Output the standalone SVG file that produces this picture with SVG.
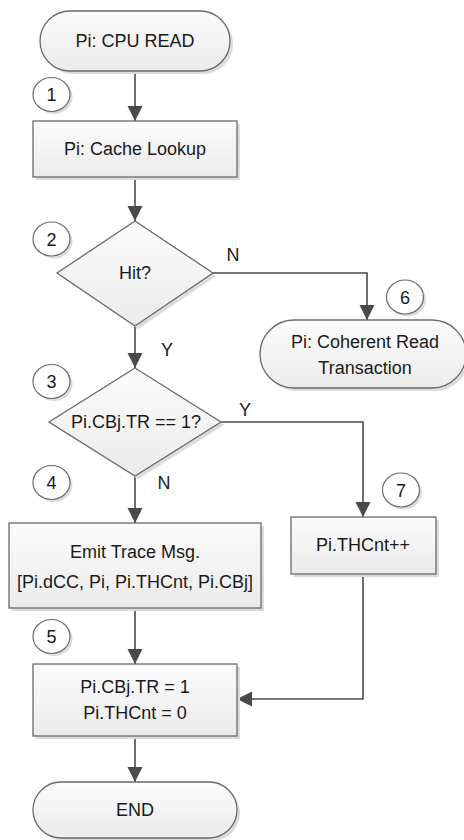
<svg xmlns="http://www.w3.org/2000/svg" width="464" height="840" viewBox="0 0 464 840">
  <style>
    .shape { fill: url(#fillGrad); stroke: #6a6a6a; stroke-width: 1.3; }
    .shadow { fill: #dcdcdc; }
    .badge { fill: #ffffff; stroke: #6a6a6a; stroke-width: 1.2; }
    .label { font-family: "Liberation Sans", Arial, sans-serif; font-size: 18px; fill: #1a1a1a; text-anchor: middle; }
    .edge { fill: none; stroke: #4a4a4a; stroke-width: 1.6; marker-end: url(#arrow); }
  </style>
  <defs>
    <linearGradient id="fillGrad" x1="0" y1="0" x2="0" y2="1">
      <stop offset="0" stop-color="#fcfcfc"/>
      <stop offset="1" stop-color="#ebebeb"/>
    </linearGradient>
    <marker id="arrow" markerUnits="userSpaceOnUse" markerWidth="16" markerHeight="16" refX="15" refY="7.5" orient="auto">
      <path d="M0,0 L15,7.5 L0,15 Z" fill="#4a4a4a"/>
    </marker>
  </defs>

  <!-- connectors -->
  <g id="connectors">
    <path class="edge" d="M135,71 V121"/>
    <path class="edge" d="M135,177 V221"/>
    <path class="edge" d="M213,273 H367 V320"/>
    <path class="edge" d="M135,326 V368"/>
    <path class="edge" d="M221,422 H363 V517"/>
    <path class="edge" d="M135,476 V523"/>
    <path class="edge" d="M135,608 V664"/>
    <path class="edge" d="M363,574 V699 H237"/>
    <path class="edge" d="M135,736 V782"/>
    <text class="label" x="233" y="261">N</text>
    <text class="label" x="167" y="356">Y</text>
    <text class="label" x="245" y="416">Y</text>
    <text class="label" x="164" y="489">N</text>
  </g>

  <!-- start terminator -->
  <g id="start">
    <rect class="shadow" x="43" y="14" width="190" height="60" rx="30"/>
    <rect class="shape" x="40" y="11" width="190" height="60" rx="30"/>
    <text class="label" x="135" y="47">Pi: CPU READ</text>
  </g>

  <!-- cache lookup -->
  <g id="cacheLookup">
    <rect class="shadow" x="36" y="124" width="204" height="56"/>
    <rect class="shape" x="33" y="121" width="204" height="56"/>
    <text class="label" x="135" y="155">Pi: Cache Lookup</text>
  </g>

  <!-- hit decision -->
  <g id="hitDecision">
    <polygon class="shadow" points="138,224 216,276 138,329 60,276"/>
    <polygon class="shape" points="135,221 213,273 135,326 57,273"/>
    <text class="label" x="135" y="279">Hit?</text>
  </g>

  <!-- coherent read transaction -->
  <g id="coherentRead">
    <rect class="shadow" x="263" y="323" width="206" height="68" rx="34"/>
    <rect class="shape" x="260" y="320" width="206" height="68" rx="34"/>
    <text class="label" x="365" y="348">Pi: Coherent Read</text>
    <text class="label" x="365" y="374">Transaction</text>
  </g>

  <!-- trace bit decision -->
  <g id="traceDecision">
    <polygon class="shadow" points="138,371 224,425 138,479 52,425"/>
    <polygon class="shape" points="135,368 221,422 135,476 49,422"/>
    <text class="label" x="136" y="428">Pi.CBj.TR == 1?</text>
  </g>

  <!-- emit trace message -->
  <g id="emitTrace">
    <rect class="shadow" x="12" y="526" width="252" height="85"/>
    <rect class="shape" x="9" y="523" width="252" height="85"/>
    <text class="label" x="135" y="558">Emit Trace Msg.</text>
    <text class="label" x="135" y="588">[Pi.dCC, Pi, Pi.THCnt, Pi.CBj]</text>
  </g>

  <!-- hit counter increment -->
  <g id="thcntInc">
    <rect class="shadow" x="294" y="520" width="145" height="57"/>
    <rect class="shape" x="291" y="517" width="145" height="57"/>
    <text class="label" x="363" y="551">Pi.THCnt++</text>
  </g>

  <!-- reset -->
  <g id="resetState">
    <rect class="shadow" x="36" y="667" width="204" height="72"/>
    <rect class="shape" x="33" y="664" width="204" height="72"/>
    <text class="label" x="135" y="693">Pi.CBj.TR = 1</text>
    <text class="label" x="135" y="719">Pi.THCnt = 0</text>
  </g>

  <!-- end terminator -->
  <g id="end">
    <rect class="shadow" x="36" y="785" width="204" height="56" rx="28"/>
    <rect class="shape" x="33" y="782" width="204" height="56" rx="28"/>
    <text class="label" x="135" y="816">END</text>
  </g>

  <!-- step badges -->
  <g id="step1">
    <ellipse class="shadow" cx="54" cy="97" rx="18.5" ry="17"/>
    <ellipse class="badge" cx="51.5" cy="94.5" rx="18.5" ry="17"/>
    <text class="label" x="51.5" y="101">1</text>
  </g>
  <g id="step2">
    <ellipse class="shadow" cx="54" cy="241.5" rx="18.5" ry="17"/>
    <ellipse class="badge" cx="51.5" cy="239" rx="18.5" ry="17"/>
    <text class="label" x="51.5" y="245.5">2</text>
  </g>
  <g id="step3">
    <ellipse class="shadow" cx="54" cy="384" rx="18.5" ry="17"/>
    <ellipse class="badge" cx="51.5" cy="381.5" rx="18.5" ry="17"/>
    <text class="label" x="51.5" y="388">3</text>
  </g>
  <g id="step4">
    <ellipse class="shadow" cx="54" cy="485" rx="18.5" ry="17"/>
    <ellipse class="badge" cx="51.5" cy="482.5" rx="18.5" ry="17"/>
    <text class="label" x="51.5" y="489">4</text>
  </g>
  <g id="step5">
    <ellipse class="shadow" cx="54" cy="639" rx="18.5" ry="17"/>
    <ellipse class="badge" cx="51.5" cy="636.5" rx="18.5" ry="17"/>
    <text class="label" x="51.5" y="643">5</text>
  </g>
  <g id="step6">
    <ellipse class="shadow" cx="407.5" cy="299.5" rx="18.5" ry="17"/>
    <ellipse class="badge" cx="405" cy="297" rx="18.5" ry="17"/>
    <text class="label" x="405" y="303.5">6</text>
  </g>
  <g id="step7">
    <ellipse class="shadow" cx="403.5" cy="492.5" rx="18.5" ry="17"/>
    <ellipse class="badge" cx="401" cy="490" rx="18.5" ry="17"/>
    <text class="label" x="401" y="496.5">7</text>
  </g>
</svg>
